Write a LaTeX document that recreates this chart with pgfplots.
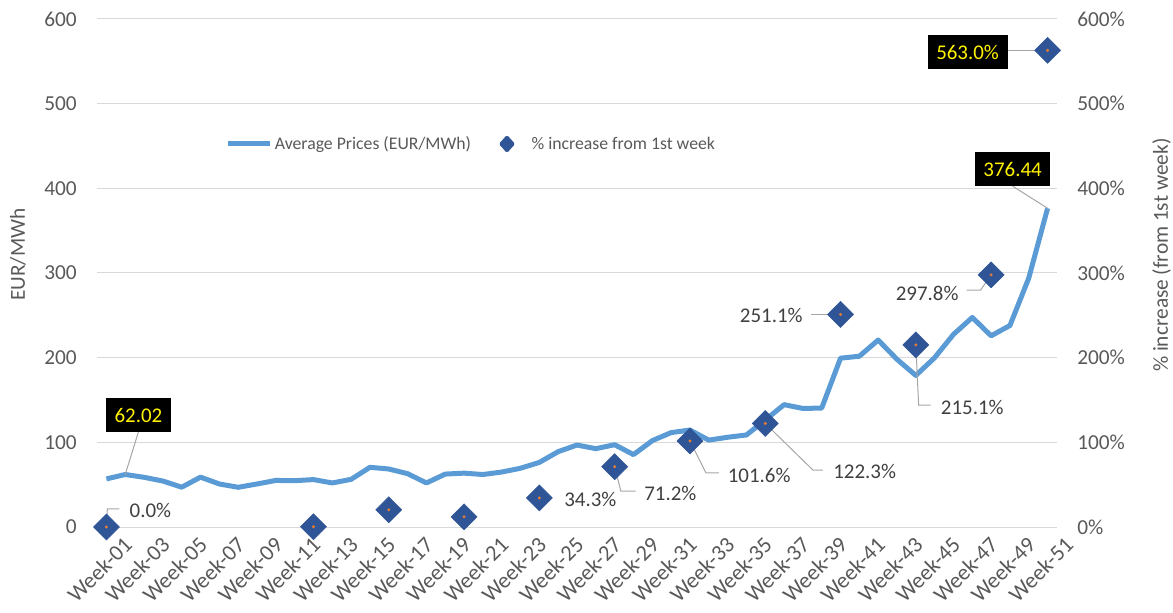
\documentclass[border=0pt]{standalone}
\usepackage{fontspec}
\setmainfont{Carlito}
\usepackage{pgfplots}
\pgfplotsset{compat=1.18}
\definecolor{lineblue}{HTML}{5B9BD5}
\definecolor{diablue}{HTML}{2F5597}
\definecolor{tickgray}{HTML}{595959}
\definecolor{labgray}{HTML}{404040}
\definecolor{gridgray}{HTML}{D9D9D9}
\definecolor{leadgray}{HTML}{A6A6A6}
\definecolor{dotorange}{HTML}{ED7D31}
\newcommand{\bigf}{\fontsize{16}{19}\selectfont}
\newcommand{\lblf}{\fontsize{15.7}{19}\selectfont}
\newcommand{\legf}{\fontsize{13.3}{16}\selectfont}
\pgfplotsset{base/.style={width=720pt,height=381pt,scale only axis,at={(0,0)},anchor=south west,
  xmin=0.5,xmax=51.5,ymin=0,ymax=600,ytick={0,100,...,600},
  major tick length=0pt, axis line style={draw=none}, tick style={draw=none},
  /pgf/number format/assume math mode=true,
  tick label style={font=\bigf, text=tickgray},
  label style={font=\bigf, text=tickgray}, clip=false}}
\tikzset{blk/.style={fill=black, text=yellow, inner xsep=6.5pt, inner ysep=0pt, minimum height=25.5pt, font=\lblf},
  gl/.style={text=labgray, inner sep=0pt, font=\lblf},
  ld/.style={leadgray, line width=0.75pt}}
\pgfplotstableread{
w p
1 56.8
2 62.02
3 58.7
4 54.3
5 47
6 58.9
7 50.8
8 46.9
9 50.8
10 55
11 54.7
12 56
13 52
14 56.3
15 70.5
16 68.5
17 63
18 52
19 62.5
20 63.6
21 62
22 64.9
23 69.4
24 76.3
25 89
26 96.8
27 92.5
28 97.2
29 85.5
30 102
31 111.5
32 114.5
33 102.6
34 106
35 108.7
36 126.3
37 144.5
38 140
39 140.5
40 199.4
41 201.7
42 220.8
43 198
44 179
45 200
46 227.5
47 247.5
48 225.8
49 238
50 294
51 376.44
}\prices
\pgfplotstableread{
w q
1 0
12 0.3
16 20.3
20 12
24 34.3
28 71.2
32 101.6
36 122.3
40 251.1
44 215.1
48 297.8
51 563.0
}\pct
\begin{document}
\begin{tikzpicture}
\begin{axis}[base,
  ymajorgrids, grid style={gridgray, line width=0.75pt},
  xtick={1,3,...,51},
  xticklabels={Week-01,Week-03,Week-05,Week-07,Week-09,Week-11,Week-13,Week-15,Week-17,Week-19,Week-21,Week-23,Week-25,Week-27,Week-29,Week-31,Week-33,Week-35,Week-37,Week-39,Week-41,Week-43,Week-45,Week-47,Week-49,Week-51},
  xticklabel style={font=\fontsize{16.8}{20}\selectfont, rotate=45, anchor=north east, inner sep=0pt, xshift=4pt, yshift=-13pt},
  yticklabel style={anchor=east, inner sep=0pt, xshift=-15pt},
  ylabel={EUR/MWh},
  ylabel style={at={(axis description cs:-0.0823,0.536)}, anchor=center},
]
\addplot[lineblue, line width=3.75pt, line join=round, mark=none] table[x=w,y=p] {\prices};
\end{axis}
\begin{axis}[base,
  axis y line*=right, axis x line=none, xtick=\empty,
  yticklabel={\pgfmathprintnumber{\tick}\%},
  yticklabel style={anchor=west, inner sep=0pt, xshift=15pt},
  ylabel={\% increase (from 1st week)},
  ylabel style={at={(axis description cs:1.109,0.535)}, anchor=center},
  legend style={at={(axis description cs:0.390,0.754)}, anchor=center, draw=none, fill=none,
    font=\legf, text=tickgray, legend columns=2,
    /tikz/every even column/.append style={column sep=19pt}},
  legend cell align=left,
]
\addlegendimage{legend image code/.code={\draw[lineblue, line width=3.75pt] (0pt,0pt) -- (31.5pt,0pt);}}
\addlegendentry{Average Prices (EUR/MWh)}
\addlegendimage{legend image code/.code={\fill[diablue, rounded corners=1pt] (0pt,-6.5pt) -- (5.8pt,0pt) -- (0pt,6.5pt) -- (-5.8pt,0pt) -- cycle; \path[draw=none,fill=none] (0pt,0pt) -- (16.5pt,0pt);}}
\addlegendentry{\% increase from 1st week}
\addplot[forget plot, only marks, mark=square*, mark size=6.9pt, mark options={rotate=45, rounded corners=1.4pt, fill=diablue, draw=diablue}] table[x=w,y=q] {\pct};
\addplot[forget plot, only marks, color=dotorange, mark=*, mark size=0.9pt, mark options={fill=dotorange, draw=dotorange}] table[x=w,y=q] {\pct};
% leaders and labels
\draw[ld] (axis cs:2.70,112.2) -- (axis cs:2,62.02);
\node[blk] at (axis cs:2.70,132.2) {62.02};
\draw[ld] (axis cs:49.14,402.6) -- (axis cs:51,376.44);
\node[blk] at (axis cs:49.14,422.7) {376.44};
\draw[ld] (axis cs:48.88,563) -- (axis cs:51,563);
\node[blk] at (axis cs:46.75,561) {563.0\%};
\draw[ld] (axis cs:1,0) -- (axis cs:1.05,21.3) -- (axis cs:1.69,21.3);
\node[gl, anchor=west] at (axis cs:2.22,20) {0.0\%};
\node[gl, anchor=west] at (axis cs:25.31,33) {34.3\%};
\draw[ld] (axis cs:28,71.2) -- (axis cs:28.33,42.5) -- (axis cs:29.12,42.5);
\node[gl, anchor=west] at (axis cs:29.56,40.1) {71.2\%};
\draw[ld] (axis cs:32,101.6) -- (axis cs:32.85,63.8) -- (axis cs:33.54,63.8);
\node[gl, anchor=west] at (axis cs:34.0,61.4) {101.6\%};
\draw[ld] (axis cs:36,122.3) -- (axis cs:38.53,67.3) -- (axis cs:39.06,67.3);
\node[gl, anchor=west] at (axis cs:39.6,66.1) {122.3\%};
\draw[ld] (axis cs:38.42,251.1) -- (axis cs:40,251.1);
\node[gl, anchor=east] at (axis cs:38.0,250.3) {251.1\%};
\draw[ld] (axis cs:44,215.1) -- (axis cs:44.15,144) -- (axis cs:44.79,144);
\node[gl, anchor=west] at (axis cs:45.32,141.7) {215.1\%};
\draw[ld] (axis cs:46.7,279.8) -- (axis cs:47.44,279.8) -- (axis cs:48,297.8);
\node[gl, anchor=east] at (axis cs:46.28,276.3) {297.8\%};
\end{axis}
\pgfresetboundingbox
\path[use as bounding box] (-72.75pt,-64.5pt) rectangle (807pt,395.25pt);
\end{tikzpicture}
\end{document}
